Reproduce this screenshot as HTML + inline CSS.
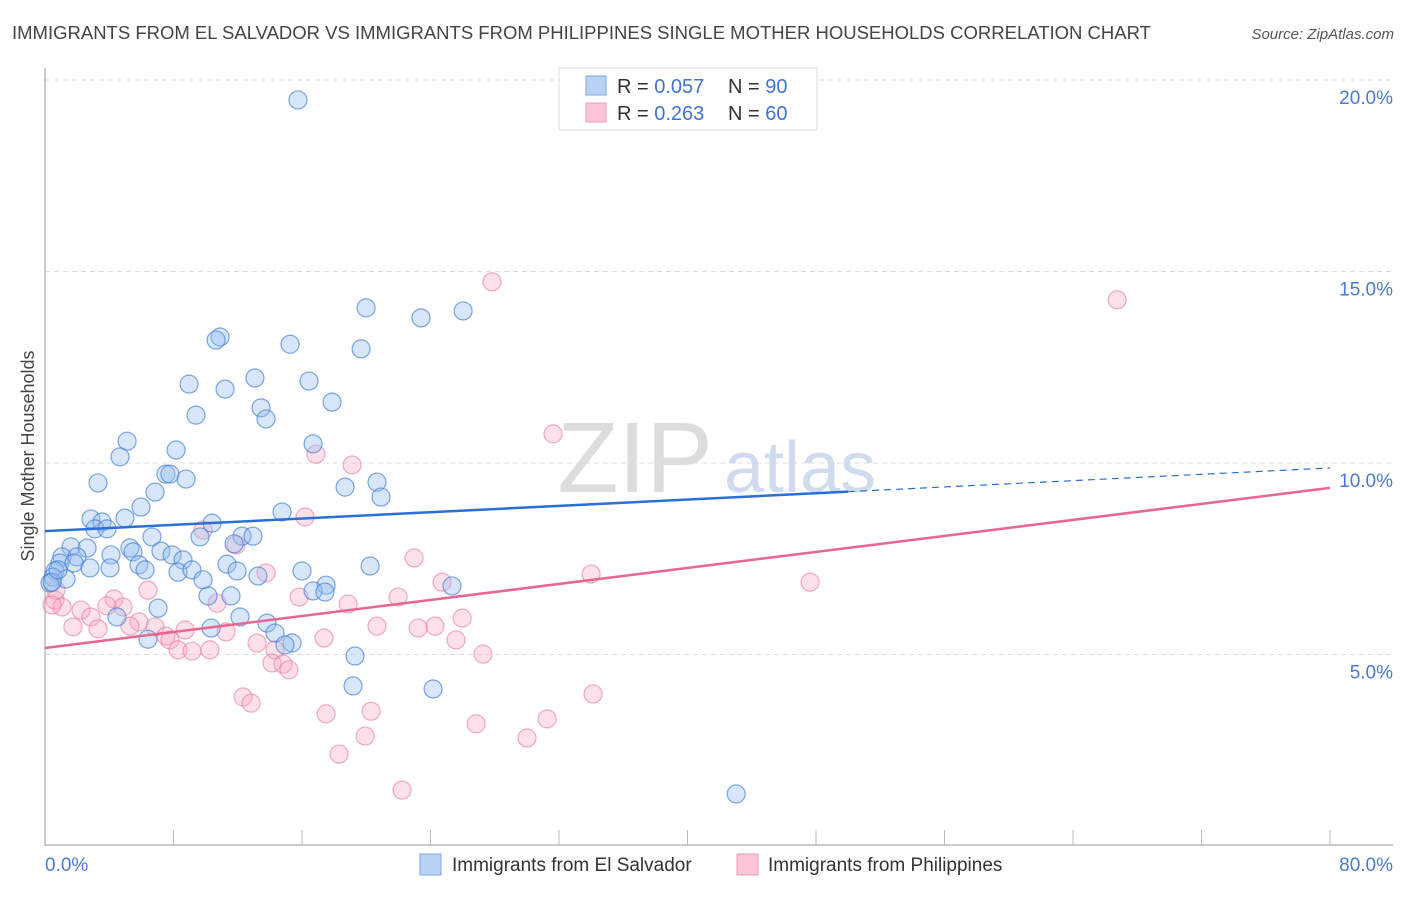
<!DOCTYPE html>
<html><head><meta charset="utf-8"><style>
body{margin:0;background:#fff;font-family:"Liberation Sans",sans-serif}
svg text{font-family:"Liberation Sans",sans-serif}
</style></head><body>
<svg id="chart" width="1406" height="892" xmlns="http://www.w3.org/2000/svg">
<text x="12" y="39" font-size="18.5" fill="#444">IMMIGRANTS FROM EL SALVADOR VS IMMIGRANTS FROM PHILIPPINES SINGLE MOTHER HOUSEHOLDS CORRELATION CHART</text>
<text x="1394" y="39" font-size="15" fill="#555" text-anchor="end" font-style="italic">Source: ZipAtlas.com</text>
<text transform="translate(34,456) rotate(-90)" font-size="18" fill="#444" text-anchor="middle">Single Mother Households</text>
<g><text x="635" y="492" font-size="100" fill="#ddd" text-anchor="middle" font-family="Liberation Serif">ZIP</text><text x="800" y="492" font-size="72" fill="#cfdcef" text-anchor="middle">atlas</text></g>
<g id="grid"></g><g id="axes"></g><g id="pts"></g><g id="lines"></g>
<g>
<rect x="559" y="68" width="258" height="62" fill="#fff" stroke="#ddd"/>
<rect x="586" y="76" width="20" height="19" fill="#b8d3f5" stroke="#7fa7e0"/>
<rect x="586" y="103" width="20" height="19" fill="#fac6d5" stroke="#ec9bb4"/>
<text x="617" y="93" font-size="20" fill="#333">R = <tspan fill="#3f74d0">0.057</tspan></text>
<text x="728" y="93" font-size="20" fill="#333">N = <tspan fill="#3f74d0">90</tspan></text>
<text x="617" y="120" font-size="20" fill="#333">R = <tspan fill="#3f74d0">0.263</tspan></text>
<text x="728" y="120" font-size="20" fill="#333">N = <tspan fill="#3f74d0">60</tspan></text>
</g>
<g>
<rect x="420" y="854" width="21" height="21" fill="#b8d3f5" stroke="#7fa7e0"/>
<text x="452" y="871" font-size="19" fill="#333">Immigrants from El Salvador</text>
<rect x="737" y="854" width="21" height="21" fill="#fac6d5" stroke="#ec9bb4"/>
<text x="768" y="871" font-size="19" fill="#333">Immigrants from Philippines</text>
</g>
</svg>
<script>
const yTicks=[5,10,15,20];
const yTickLabels=["5.0%","10.0%","15.0%","20.0%"];
const xEndLabels=["0.0%","80.0%"];
const blueX=[15.75,10.9,10.65,15.26,19.99,23.41,26.03,19.68,8.97,11.21,13.07,16.44,9.40,13.45,13.76,17.87,5.11,4.67,8.16,16.69,3.30,6.85,7.53,7.78,8.78,18.68,20.67,20.92,5.98,2.86,3.55,4.98,3.11,3.86,10.40,14.76,6.66,9.65,12.27,12.95,11.77,1.62,2.62,5.29,4.11,5.48,7.22,7.91,1.06,1.99,0.93,1.81,8.59,0.62,2.80,4.05,5.85,6.23,8.28,9.15,11.33,11.96,16.00,20.24,0.50,1.31,0.31,9.84,13.26,17.50,16.69,25.34,10.15,11.58,17.43,4.48,7.04,12.14,13.82,10.34,14.32,15.38,14.94,6.41,19.30,19.18,24.16,43.03,0.44,0.81];
const blueY=[19.48,13.29,13.21,13.10,14.05,13.79,13.97,12.98,12.06,11.93,12.22,12.14,11.25,11.44,11.15,11.59,10.57,10.16,10.34,10.50,9.48,9.24,9.71,9.71,9.58,9.37,9.50,9.11,8.85,8.54,8.46,8.56,8.28,8.28,8.43,8.72,8.07,8.07,8.09,8.09,7.89,7.81,7.78,7.78,7.60,7.68,7.70,7.60,7.55,7.55,7.39,7.39,7.47,7.18,7.26,7.26,7.34,7.21,7.15,7.21,7.36,7.18,7.18,7.31,7.02,6.97,6.87,6.95,7.05,6.81,6.66,6.79,6.53,6.53,6.63,5.98,6.21,5.98,5.82,5.69,5.56,5.30,5.25,5.40,4.96,4.18,4.10,1.36,6.89,7.21];
const pinkX=[27.83,66.75,31.63,16.87,19.12,16.19,9.84,11.89,13.76,22.98,34.00,47.63,24.72,6.41,15.82,18.87,21.98,4.30,0.62,1.06,2.24,3.86,4.86,2.86,10.71,25.97,5.85,1.74,3.30,8.72,5.29,20.67,23.23,24.28,6.85,7.53,7.78,11.27,17.37,25.59,8.28,9.15,10.27,13.20,14.32,27.27,14.13,14.82,15.19,12.33,12.83,34.12,17.50,20.30,26.84,31.26,19.93,30.01,18.31,22.23,0.68,0.44];
const pinkY=[14.73,14.26,10.76,10.23,9.95,8.59,8.25,7.86,7.13,7.52,7.10,6.89,6.89,6.68,6.50,6.32,6.50,6.45,6.42,6.24,6.16,6.27,6.24,5.98,6.34,5.95,5.85,5.72,5.67,5.64,5.74,5.74,5.69,5.74,5.72,5.48,5.38,5.59,5.43,5.38,5.12,5.09,5.12,5.30,5.12,5.01,4.78,4.75,4.60,3.89,3.73,3.97,3.45,3.52,3.19,3.32,2.87,2.82,2.40,1.46,6.68,6.29];
const blueTrend=[8.22,9.87];
const pinkTrend=[5.17,9.35];
const NS="http://www.w3.org/2000/svg";
const X0=45,X1=1330,Y0=846,PY=38.3;
function sx(v){return X0+(X1-X0)*v/80;}
function sy(v){return Y0-v*PY;}
function mk(tag,attrs,parent){const e=document.createElementNS(NS,tag);for(const k in attrs)e.setAttribute(k,attrs[k]);document.getElementById(parent).appendChild(e);return e;}
yTicks.forEach((t,i)=>{
 const g=mk('line',{x1:X0,x2:1393,y1:sy(t),y2:sy(t),stroke:'#ddd','stroke-dasharray':'5,4'},'grid');
 
 
 const l=mk('text',{x:1393,y:sy(t)+24,'font-size':19,fill:'#4a7bd0','text-anchor':'end'},'grid');
 l.textContent=yTickLabels[i];
 
 
});
const ya=mk('line',{x1:X0,x2:X0,y1:68,y2:Y0,stroke:'#bbb','stroke-width':1.5},'axes');


const xa=mk('line',{x1:X0,x2:1393,y1:Y0-1,y2:Y0-1,stroke:'#bbb','stroke-width':1.5},'axes');


for(let i=1;i<=10;i++){
 const t=mk('line',{x1:sx(i*8),x2:sx(i*8),y1:830,y2:Y0,stroke:'#bbb'},'axes');
 
 
}
[[0,'start',X0],[80,'end',1393]].forEach((d,i)=>{
 const l=mk('text',{x:d[2],y:871,'font-size':19,fill:'#4a7bd0','text-anchor':d[1]},'axes');
 l.textContent=xEndLabels[i];
 
 
});
function dots(xs,ys,fill,stroke,name){
 xs.forEach((x,i)=>{
  const c=mk('circle',{cx:sx(x),cy:sy(ys[i]),r:9,fill:fill,stroke:stroke,'stroke-width':1.2},'pts');
  
  
 });
}
dots(pinkX,pinkY,'rgba(248,170,195,0.35)','rgba(230,120,155,0.6)','point-philippines');
dots(blueX,blueY,'rgba(150,190,240,0.38)','rgba(60,120,210,0.65)','point-el-salvador');
const bmid=blueTrend[0]+(blueTrend[1]-blueTrend[0])*50/80;
const b1=mk('line',{x1:sx(0),y1:sy(blueTrend[0]),x2:sx(50),y2:sy(bmid),stroke:'#2a6fd6','stroke-width':2.5},'lines');


const b2=mk('line',{x1:sx(50),y1:sy(bmid),x2:sx(80),y2:sy(blueTrend[1]),stroke:'#2a6fd6','stroke-width':1.2,'stroke-dasharray':'7,5'},'lines');


const p1=mk('line',{x1:sx(0),y1:sy(pinkTrend[0]),x2:sx(80),y2:sy(pinkTrend[1]),stroke:'#e8668f','stroke-width':2.5},'lines');


</script>
</body></html>
